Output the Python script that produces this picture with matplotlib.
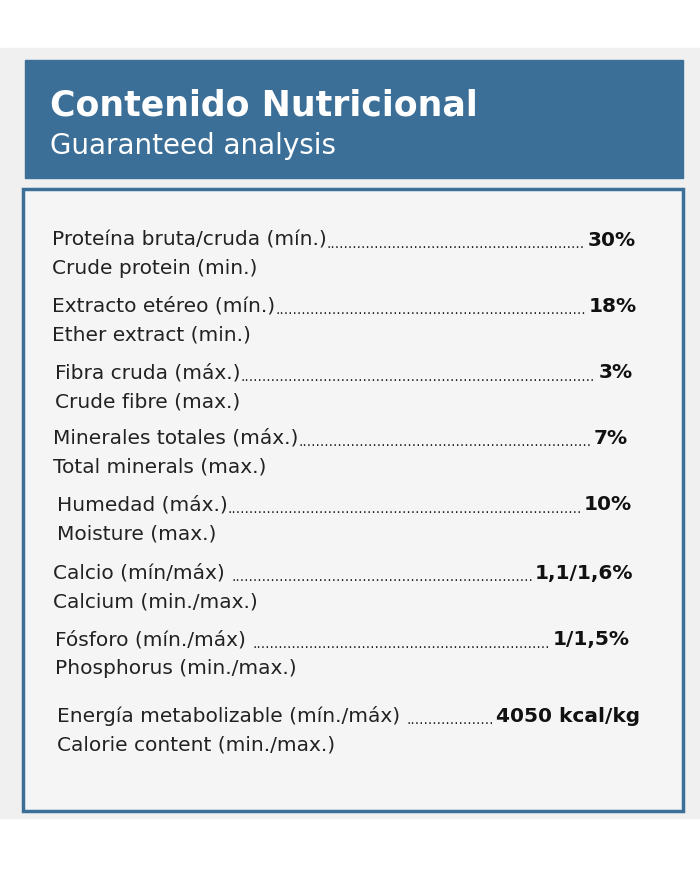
import matplotlib
matplotlib.use("Agg")
import matplotlib.pyplot as plt
from matplotlib.patches import Rectangle

labels_es = ["Proteína bruta/cruda (mín.)", "Extracto etéreo (mín.)", "Fibra cruda (máx.)",
             "Minerales totales (máx.)", "Humedad (máx.)", "Calcio (mín/máx) ",
             "Fósforo (mín./máx) ", "Energía metabolizable (mín./máx) "]
labels_en = ["Crude protein (min.)", "Ether extract (min.)", "Crude fibre (max.)",
             "Total minerals (max.)", "Moisture (max.)", "Calcium (min./max.)",
             "Phosphorus (min./max.)", "Calorie content (min./max.)"]
values = ["30%", "18%", "3%", "7%", "10%", "1,1/1,6%", "1/1,5%", "4050 kcal/kg"]
row_y = [240, 306, 373, 438, 505, 573, 640, 716]
left_x = [52, 52, 55, 53, 57, 53, 55, 57]
right_x = [636, 637, 633, 628, 632, 633, 630, 640]

W, H = 700, 869
fig = plt.figure(figsize=(7, 8.69), dpi=100)
ax = fig.add_axes([0, 0, 1, 1])
ax.set_xlim(0, W); ax.set_ylim(H, 0); ax.axis("off")
blue = "#3b6f98"
fam = "DejaVu Sans"
ax.add_patch(Rectangle((0, 48), W, 770, color="#f0f0f0", zorder=0))
ax.add_patch(Rectangle((25, 60), 658, 118, color=blue, zorder=1))
ax.add_patch(Rectangle((23, 189), 660, 622, facecolor="#f5f5f5", edgecolor=blue, lw=2.5, zorder=1))
ax.text(50, 106, "Contenido Nutricional", color="white", fontsize=25, fontweight="bold",
        family=fam, va="center", zorder=2)
ax.text(50, 146, "Guaranteed analysis", color="white", fontsize=20, family=fam,
        va="center", zorder=2)

fig.canvas.draw()
r = fig.canvas.get_renderer()
fs = 14.5
for es, en, v, y, lx, rx in zip(labels_es, labels_en, values, row_y, left_x, right_x):
    t1 = ax.text(lx, y, es, fontsize=fs, family=fam, color="#222", va="center", zorder=2)
    t2 = ax.text(rx, y, v, fontsize=fs, family=fam, fontweight="bold", color="#111",
                 ha="right", va="center", zorder=2)
    ax.text(lx, y + 29, en, fontsize=fs, family=fam, color="#222", va="center", zorder=2)
    b1 = t1.get_window_extent(r); b2 = t2.get_window_extent(r)
    dt = ax.text(0, 0, "." * 10, fontsize=10, family=fam)
    dw = dt.get_window_extent(r).width / 10
    dt.remove()
    n = int((b2.x0 - b1.x1) / dw)
    ax.text(b1.x1, y + 4, "." * max(n, 0), fontsize=10, family=fam, color="#222",
            va="center", zorder=2)
fig.savefig("out.png", dpi=100)
